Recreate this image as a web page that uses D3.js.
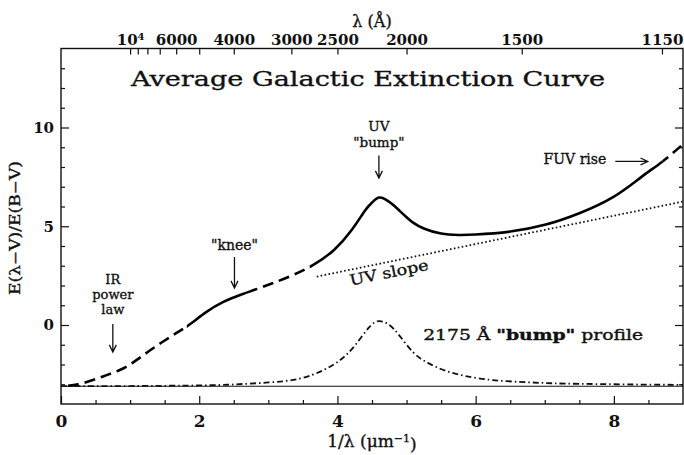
<!DOCTYPE html>
<html>
<head>
<meta charset="utf-8">
<script src="https://cdn.jsdelivr.net/npm/d3@7"></script>
<style>
  body { margin: 0; background: #fff; }
  svg { display: block; font-family: "DejaVu Serif", serif; }
</style>
</head>
<body>
<div id="chart"></div>
<script>
// extinction curve: x = 1/lambda (um^-1), y = E(lambda-V)/E(B-V)
const curveX = [0.1, 0.25, 0.45, 0.65, 0.85, 1.05, 1.25, 1.45, 1.65, 1.85, 2.1, 2.35, 2.6, 2.8, 3.05, 3.35, 3.65, 3.95, 4.2, 4.4, 4.5, 4.6, 4.7, 4.8, 4.9, 5.0, 5.1, 5.25, 5.5, 5.75, 6.0, 6.5, 7.0, 7.5, 8.0, 8.4, 8.7, 9.0];
const curveY = [-3.08, -3.0, -2.8, -2.55, -2.28, -1.88, -1.38, -0.9, -0.45, 0.0, 0.65, 1.17, 1.53, 1.78, 2.1, 2.52, 3.04, 3.8, 4.78, 5.8, 6.2, 6.45, 6.35, 6.1, 5.78, 5.46, 5.17, 4.89, 4.63, 4.56, 4.58, 4.73, 5.07, 5.66, 6.5, 7.5, 8.27, 9.15];

// 2175 A bump profile on top of -R(V)
const bumpX = [0, 1, 2, 2.5, 3, 3.45, 3.8, 4.05, 4.25, 4.45, 4.6, 4.75, 4.9, 5.1, 5.3, 5.55, 5.85, 6.25, 6.75, 7.1, 7.5, 8, 8.5, 9];
const bumpY = [-3.1, -3.09, -3.06, -3.01, -2.91, -2.72, -2.28, -1.75, -1.05, -0.15, 0.2, 0.0, -0.55, -1.4, -1.9, -2.3, -2.58, -2.79, -2.9, -2.95, -2.98, -3.0, -3.02, -3.03];

// linear UV slope and the -R(V) level
const slopeX = [3.7, 9.0];
const slopeY = [2.45, 6.25];
const rvX = [0, 9];
const rvY = [-3.1, -3.1];

// which parts of the curve are dashed (extrapolated) vs solid
const dashedRanges = [[0.1, 1.82], [2.75, 3.6], [8.7, 9.0]];
const solidRanges = [[1.82, 2.75], [3.6, 8.7]];

const xMajor = [0, 2, 4, 6, 8];
const xMinor = [0.5, 1, 1.5, 2.5, 3, 3.5, 4.5, 5, 5.5, 6.5, 7, 7.5, 8.5];
const yMajor = [0, 5, 10];
const yMinor = [-3, -2, -1, 1, 2, 3, 4, 6, 7, 8, 9, 11, 12, 13];
const lambdaTicks = [10000, 9000, 8000, 7000, 6000, 5000, 4000, 3000, 2500, 2000, 1500, 1150];
const lambdaLabels = [10000, 6000, 4000, 3000, 2500, 2000, 1500, 1150];

const W = 684, H = 455;
const L = 61, R = 683, T = 48.5, B = 404;

const svg = d3.select("#chart").append("svg")
    .attr("width", W)
    .attr("height", H);

const x = d3.scaleLinear().domain([0, 9]).range([L, R]);
const y = d3.scaleLinear().domain([-4, 14]).range([B, T]);
// top axis: wavelength in Angstrom, position = 1e4 / lambda
const w = d3.scalePow().exponent(-1).domain([10000, 1000]).range([x(1), x(10)]);

const pts = (xs, ys) => xs.map((d, i) => [d, ys[i]]);
const line = d3.line().x(d => x(d[0])).y(d => y(d[1]));
const smooth = d3.line().x(d => x(d[0])).y(d => y(d[1])).curve(d3.curveNatural);

// clip paths for dashed / solid parts
const defs = svg.append("defs");
function clip(id, ranges) {
    const cp = defs.append("clipPath").attr("id", id);
    ranges.forEach(r => cp.append("rect")
        .attr("x", x(r[0])).attr("y", 0)
        .attr("width", x(r[1]) - x(r[0])).attr("height", H));
}
clip("clipDash", dashedRanges);
clip("clipSolid", solidRanges);

// -R(V) level
svg.append("path")
    .attr("d", line(pts(rvX, rvY)))
    .attr("fill", "none").attr("stroke", "#111").attr("stroke-width", 1.2);

// bump profile
svg.append("path")
    .attr("d", smooth(pts(bumpX, bumpY)))
    .attr("fill", "none").attr("stroke", "#111").attr("stroke-width", 1.8)
    .attr("stroke-dasharray", "6,3,1.5,3");

// UV slope
svg.append("path")
    .attr("d", line(pts(slopeX, slopeY)))
    .attr("fill", "none").attr("stroke", "#111").attr("stroke-width", 1.8)
    .attr("stroke-dasharray", "1.6,2.4");

// main curve
const mainD = smooth(pts(curveX, curveY));
svg.append("path")
    .attr("d", mainD).attr("clip-path", "url(#clipDash)")
    .attr("fill", "none").attr("stroke", "#000").attr("stroke-width", 2.6)
    .attr("stroke-dasharray", "11,6");
svg.append("path")
    .attr("d", mainD).attr("clip-path", "url(#clipSolid)")
    .attr("fill", "none").attr("stroke", "#000").attr("stroke-width", 2.6);

// axes
function style(g, size) {
    g.select(".domain").remove();
    g.selectAll("line").attr("stroke", "#111").attr("stroke-width", 1.2);
    g.selectAll("text").attr("fill", "#111").attr("font-size", size)
        .attr("font-weight", "bold")
        .attr("font-family", "DejaVu Serif, serif");
}

svg.append("g").attr("transform", `translate(0,${B})`)
    .call(d3.axisBottom(x).tickValues(xMajor).tickSizeInner(-8).tickSizeOuter(0).tickPadding(11))
    .call(g => style(g, 17));
svg.append("g").attr("transform", `translate(0,${B})`)
    .call(d3.axisBottom(x).tickValues(xMinor).tickSizeInner(-4).tickSizeOuter(0).tickFormat(""))
    .call(g => style(g, 17));

svg.append("g").attr("transform", `translate(${L},0)`)
    .call(d3.axisLeft(y).tickValues(yMajor).tickSizeInner(-8).tickSizeOuter(0).tickPadding(7))
    .call(g => style(g, 15));
svg.append("g").attr("transform", `translate(${L},0)`)
    .call(d3.axisLeft(y).tickValues(yMinor).tickSizeInner(-4).tickSizeOuter(0).tickFormat(""))
    .call(g => style(g, 15));

svg.append("g").attr("transform", `translate(${R},0)`)
    .call(d3.axisRight(y).tickValues(yMajor).tickSizeInner(-8).tickSizeOuter(0).tickFormat(""))
    .call(g => style(g, 15));
svg.append("g").attr("transform", `translate(${R},0)`)
    .call(d3.axisRight(y).tickValues(yMinor).tickSizeInner(-4).tickSizeOuter(0).tickFormat(""))
    .call(g => style(g, 15));

const topAxis = svg.append("g").attr("transform", `translate(0,${T})`)
    .call(d3.axisTop(w).tickValues(lambdaTicks).tickSizeInner(-6).tickSizeOuter(0).tickPadding(4)
        .tickFormat(d => lambdaLabels.includes(d) && d !== 10000 ? d : ""))
    .call(g => style(g, 15));
topAxis.selectAll(".tick").filter(d => d === 10000).select("text")
    .text("10")
    .append("tspan").attr("dy", "-0.45em").attr("font-size", 10).text("4");

// frame
svg.append("rect")
    .attr("x", L).attr("y", T).attr("width", R - L).attr("height", B - T)
    .attr("fill", "none").attr("stroke", "#111").attr("stroke-width", 1.4);

// regular text, slightly thickened to match the heavy plot font
function txt(sel) {
    return sel.attr("fill", "#111").attr("stroke", "#111").attr("stroke-width", 0.35);
}

// titles
const cx = (L + R) / 2;
txt(svg.append("text").attr("x", cx - 4).attr("y", 86)
    .attr("text-anchor", "middle").attr("font-size", 20)
    .attr("textLength", 474).attr("lengthAdjust", "spacingAndGlyphs")
    .text("Average Galactic Extinction Curve"));

txt(svg.append("text").attr("x", cx).attr("y", 27)
    .attr("text-anchor", "middle").attr("font-size", 16)
    .text("λ (Å)"));

const xt = txt(svg.append("text").attr("x", cx).attr("y", 447)
    .attr("text-anchor", "middle").attr("font-size", 17));
xt.append("tspan").text("1/λ (μm");
xt.append("tspan").attr("dy", "-0.5em").attr("font-size", 11).text("−1");
xt.append("tspan").attr("dy", "0.5em").text(")");

txt(svg.append("text")
    .attr("transform", "translate(20,228) rotate(-90)")
    .attr("text-anchor", "middle").attr("font-size", 14)
    .attr("textLength", 134).attr("lengthAdjust", "spacingAndGlyphs")
    .text("E(λ−V)/E(B−V)"));

// annotations
function label(t, xv, yv, anchor, size) {
    return txt(svg.append("text").attr("x", x(xv)).attr("y", y(yv))
        .attr("text-anchor", anchor || "middle").attr("font-size", size || 14)
        .text(t));
}
function arrow(x1, y1, x2, y2) {
    const a = Math.atan2(y(y2) - y(y1), x(x2) - x(x1));
    const hx = x(x2), hy = y(y2), len = 8, spread = 0.45;
    svg.append("path")
        .attr("d", `M${x(x1)},${y(y1)}L${hx},${hy}` +
            `M${hx - len * Math.cos(a - spread)},${hy - len * Math.sin(a - spread)}L${hx},${hy}` +
            `L${hx - len * Math.cos(a + spread)},${hy - len * Math.sin(a + spread)}`)
        .attr("fill", "none").attr("stroke", "#111").attr("stroke-width", 1.3);
}

label("IR", 0.75, 2.08, "middle", 13);
label("power", 0.75, 1.32, "middle", 13);
label("law", 0.75, 0.56, "middle", 13);
arrow(0.75, 0.05, 0.75, -1.37);

label("\"knee\"", 2.51, 3.8);
arrow(2.51, 3.44, 2.51, 1.87);

label("UV", 4.6, 9.82, "middle", 13.5);
label("\"bump\"", 4.6, 9.0, "middle", 13.5);
arrow(4.6, 8.58, 4.6, 7.44);

label("FUV rise", 7.89, 8.15, "end");
arrow(8.02, 8.28, 8.49, 8.28);

const bt = label("", 5.24, -0.76, "start")
    .attr("textLength", 220).attr("lengthAdjust", "spacingAndGlyphs");
bt.append("tspan").text("2175 Å ");
bt.append("tspan").attr("font-weight", "bold").text("\"bump\"");
bt.append("tspan").text(" profile");

txt(svg.append("text")
    .attr("transform", `translate(${x(4.76)},${y(2.4)}) rotate(-11.3)`)
    .attr("text-anchor", "middle").attr("font-size", 15)
    .attr("textLength", 80).attr("lengthAdjust", "spacingAndGlyphs")
    .text("UV slope"));
</script>
</body>
</html>
